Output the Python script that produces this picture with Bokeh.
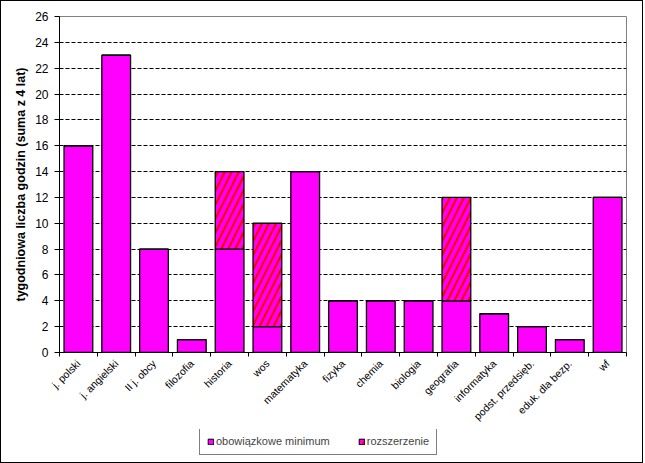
import math
from bokeh.plotting import figure
from bokeh.layouts import column
from bokeh.models import ColumnDataSource, FixedTicker, Legend, LegendItem, Range1d
from bokeh.embed import file_html
from bokeh.resources import INLINE

categories = ["j. polski", "j. angielski", "II j. obcy", "filozofia", "historia", "wos",
              "matematyka", "fizyka", "chemia", "biologia", "geografia", "informatyka",
              "podst. przedsięb.", "eduk. dla bezp.", "wf"]
obowiazkowe = [16, 23, 8, 1, 8, 2, 14, 4, 4, 4, 4, 3, 2, 1, 12]
rozszerzenie = [0, 0, 0, 0, 6, 8, 0, 0, 0, 0, 8, 0, 0, 0, 0]
y_ticks = list(range(0, 27, 2))
series_names = ["obowiązkowe minimum", "rozszerzenie"]

idx = list(range(len(categories)))
src = ColumnDataSource(dict(x=idx, obow=obowiazkowe, roz=rozszerzenie,
                            top2=[a + b for a, b in zip(obowiazkowe, rozszerzenie)]))

FONT = "Liberation Sans"
MAGENTA = "#FF00FF"
RED = "#FF0000"
hatch_kw = dict(hatch_pattern="right_diagonal_line", hatch_color=MAGENTA,
                hatch_scale=14, hatch_weight=4)

W = 641
p = figure(width=W, height=428, output_backend="svg", toolbar_location=None,
           x_range=Range1d(-0.5, len(categories) - 0.5), y_range=Range1d(0, 26),
           min_border_left=58, min_border_right=16, min_border_top=15, min_border_bottom=77)

r1 = p.vbar(x="x", top="obow", bottom=0, width=0.76, source=src,
            fill_color=MAGENTA, line_color="black", line_width=1.3)
r2 = p.vbar(x="x", top="top2", bottom="obow", width=0.76, source=src,
            fill_color=RED, line_color="black", line_width=1.3, **hatch_kw)

# axes
p.xaxis.ticker = FixedTicker(ticks=idx, minor_ticks=[i - 0.5 for i in range(len(categories) + 1)])
p.xaxis.major_label_overrides = {i: c for i, c in enumerate(categories)}
p.xaxis.major_label_orientation = math.pi / 4
p.xaxis.major_tick_line_color = None
p.xaxis.minor_tick_out = 4
p.xaxis.minor_tick_in = 0
p.xaxis.minor_tick_line_color = "black"
p.xaxis.axis_line_color = "black"
p.xaxis.major_label_text_font = FONT
p.xaxis.major_label_text_font_size = "10.5px"
p.xaxis.major_label_text_color = "black"
p.xaxis.major_label_standoff = 3

p.yaxis.ticker = FixedTicker(ticks=y_ticks)
p.yaxis.minor_tick_line_color = None
p.yaxis.major_tick_out = 5
p.yaxis.major_tick_in = 0
p.yaxis.major_label_text_font = FONT
p.yaxis.major_label_text_font_size = "12px"
p.yaxis.major_label_text_color = "black"
p.yaxis.major_label_standoff = 6
p.yaxis.axis_label = "tygodniowa liczba godzin (suma z 4 lat)"
p.yaxis.axis_label_text_font = FONT
p.yaxis.axis_label_text_font_size = "12.5px"
p.yaxis.axis_label_text_font_style = "bold"
p.yaxis.axis_label_text_color = "black"
p.yaxis.axis_label_standoff = 4

p.xgrid.grid_line_color = None
p.ygrid.grid_line_color = "black"
p.ygrid.grid_line_dash = "4 2"
p.ygrid.grid_line_width = 1

p.outline_line_color = "#808080"
p.outline_line_width = 1

# legend figure (legend swatches only; dummy bars lie outside its visible range)
lf = figure(width=W, height=33, output_backend="svg", toolbar_location=None,
            x_range=Range1d(0, 1), y_range=Range1d(0, 1),
            min_border=0, outline_line_color=None)
lf.axis.visible = False
lf.grid.visible = False
dummy = ColumnDataSource(dict(x=[-5], top=[-5]))
lr1 = lf.vbar(x="x", top="top", width=0.5, source=dummy,
              fill_color=MAGENTA, line_color="black", line_width=1)
lr2 = lf.vbar(x="x", top="top", width=0.5, source=dummy,
              fill_color=RED, line_color="black", line_width=1, **hatch_kw)

legend = Legend(items=[LegendItem(label=series_names[0], renderers=[lr1]),
                       LegendItem(label=series_names[1], renderers=[lr2])],
                orientation="horizontal", location=(140, 7))
legend.label_text_font = FONT
legend.label_text_font_size = "11px"
legend.glyph_width = 7
legend.glyph_height = 7
legend.label_standoff = 2
legend.spacing = 28
legend.padding = 7
legend.margin = 0
legend.border_line_color = "black"
legend.border_line_width = 1
legend.label_height = 10
legend.background_fill_alpha = 1
lf.add_layout(legend, "center")

layout = column(p, lf, spacing=0)
layout.styles = {"border": "1px solid black"}

open("out.html", "w").write(file_html(layout, INLINE))
